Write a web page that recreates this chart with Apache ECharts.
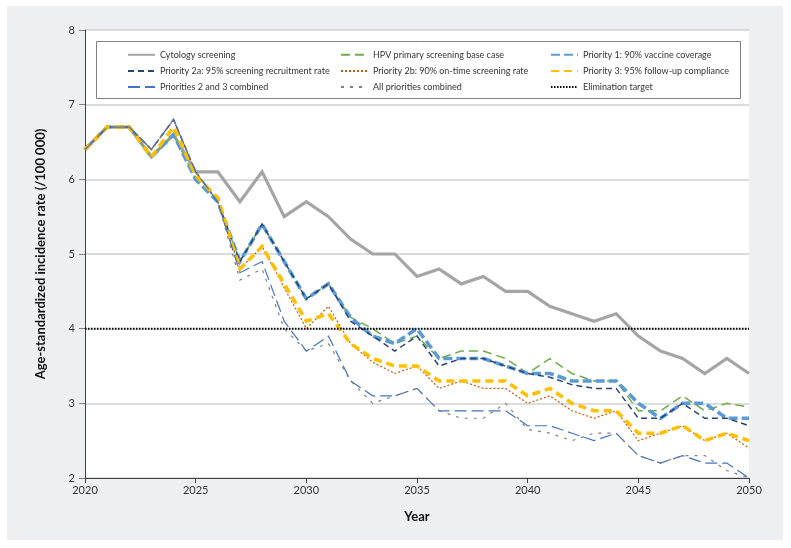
<!DOCTYPE html>
<html>
<head>
<meta charset="utf-8">
<script src="https://cdn.jsdelivr.net/npm/echarts@6/dist/echarts.min.js"></script>
<style>
html,body{margin:0;padding:0;background:#ffffff;}
#chart{width:791px;height:548px;}
</style>
</head>
<body>
<div id="chart"></div>
<script>
// ---- Data ----
var years = [2020,2021,2022,2023,2024,2025,2026,2027,2028,2029,2030,2031,2032,2033,2034,2035,2036,2037,2038,2039,2040,2041,2042,2043,2044,2045,2046,2047,2048,2049,2050];
var cytology = [6.4,6.7,6.7,6.3,6.6,6.1,6.1,5.7,6.1,5.5,5.7,5.5,5.2,5.0,5.0,4.7,4.8,4.6,4.7,4.5,4.5,4.3,4.2,4.1,4.2,3.9,3.7,3.6,3.4,3.6,3.4];
var hpvBase = [6.4,6.7,6.7,6.3,6.6,6.0,5.7,4.9,5.4,4.9,4.4,4.6,4.15,4.0,3.8,3.9,3.6,3.7,3.7,3.6,3.4,3.6,3.4,3.3,3.3,2.9,2.9,3.1,2.9,3.0,2.95];
var priority1 = [6.4,6.7,6.7,6.3,6.6,6.0,5.7,4.9,5.4,4.9,4.4,4.6,4.15,3.9,3.8,4.0,3.6,3.6,3.6,3.5,3.4,3.4,3.3,3.3,3.3,3.0,2.8,3.0,3.0,2.8,2.8];
var priority2a = [6.4,6.7,6.7,6.4,6.8,6.1,5.7,4.9,5.4,4.9,4.4,4.6,4.1,3.9,3.7,3.9,3.5,3.6,3.6,3.5,3.4,3.35,3.25,3.2,3.2,2.8,2.8,3.0,2.8,2.8,2.7];
var priority2b = [6.4,6.7,6.7,6.4,6.8,6.1,5.7,4.8,5.1,4.55,4.0,4.3,3.8,3.55,3.4,3.5,3.2,3.3,3.2,3.2,3.0,3.1,2.9,2.8,2.9,2.5,2.6,2.7,2.5,2.6,2.4];
var priority3 = [6.4,6.7,6.7,6.3,6.7,6.05,5.75,4.8,5.1,4.6,4.1,4.2,3.8,3.6,3.5,3.5,3.3,3.3,3.3,3.3,3.1,3.2,3.0,2.9,2.9,2.6,2.6,2.7,2.5,2.6,2.5];
var priorities23 = [6.4,6.7,6.7,6.4,6.8,6.1,5.7,4.75,4.9,4.1,3.7,3.9,3.3,3.1,3.1,3.2,2.9,2.9,2.9,2.9,2.7,2.7,2.6,2.5,2.6,2.3,2.2,2.3,2.2,2.2,2.0];
var allPriorities = [6.4,6.7,6.7,6.4,6.8,6.1,5.7,4.65,4.8,4.0,3.7,3.8,3.3,3.0,3.1,3.2,2.9,2.8,2.8,3.0,2.65,2.6,2.5,2.6,2.6,2.3,2.2,2.3,2.3,2.1,2.0];
var eliminationTarget = 4;
var yTicks = [2,3,4,5,6,7,8];
var xTicks = [2020,2025,2030,2035,2040,2045,2050];

var names = [
  'Cytology screening',
  'HPV primary screening base case',
  'Priority 1: 90% vaccine coverage',
  'Priority 2a: 95% screening recruitment rate',
  'Priority 2b: 90% on-time screening rate',
  'Priority 3: 95% follow-up compliance',
  'Priorities 2 and 3 combined',
  'All priorities combined',
  'Elimination target'
];

function pairs(arr){ return years.map(function(y,i){ return [y, arr[i]]; }); }

var FONT = 'Lato';

function lineSeries(name, arr, color, width, type){
  return {
    name: name, type: 'line', data: pairs(arr), symbol: 'none', showSymbol: false,
    animation: false, silent: true,
    lineStyle: { color: color, width: width, type: type, cap: 'butt', join: 'miter' },
    itemStyle: { color: color }
  };
}

var series = [
  lineSeries(names[0], cytology, '#a5a5a5', 3.2, 'solid'),
  lineSeries(names[1], hpvBase, '#70ad47', 1.5, [9,5]),
  lineSeries(names[2], priority1, '#5b9bd5', 3.6, [9,4]),
  lineSeries(names[3], priority2a, '#264478', 1.5, [6,4]),
  lineSeries(names[4], priority2b, '#c55a11', 1.2, [2,2]),
  lineSeries(names[5], priority3, '#ffc000', 3.6, [8,5]),
  lineSeries(names[6], priorities23, '#4472c4', 1.2, [12,5]),
  lineSeries(names[7], allPriorities, '#7f7f7f', 1.2, [3,6]),
  {
    name: names[8], type: 'line', symbol: 'none', animation: false, silent: true,
    data: [[years[0], eliminationTarget],[years[years.length-1], eliminationTarget]],
    lineStyle: { color: '#000000', width: 2, type: [1.5,1.5], cap: 'butt' },
    itemStyle: { color: '#000000' }
  }
];

function legendCol(left, items){
  return {
    orient: 'vertical', left: left, top: 45, itemWidth: 27, itemHeight: 12, itemGap: 6.5,
    selectedMode: false, data: items,
    itemStyle: { opacity: 0 },
    textStyle: { fontFamily: FONT, fontSize: 9, color: '#333333', padding: [0,0,0,0] }
  };
}

var chart = echarts.init(document.getElementById('chart'), null, { renderer: 'canvas' });
chart.setOption({
  animation: false,
  backgroundColor: '#ffffff',
  graphic: [
    { type: 'rect', z: -100, shape: { x: 7, y: 6, width: 776, height: 534 }, style: { fill: '#eeeff1' } },
    { type: 'rect', z: 3, shape: { x: 96.5, y: 41.5, width: 644, height: 57 }, style: { fill: '#ffffff', stroke: '#808080', lineWidth: 1 } }
  ],
  grid: { left: 85, top: 30, right: 42, bottom: 70, show: true, backgroundColor: '#ffffff', borderWidth: 0 },
  legend: [
    legendCol(122, [names[0], names[3], names[6]]),
    legendCol(335, [names[1], names[4], names[7]]),
    legendCol(545, [names[2], names[5], names[8]])
  ],
  xAxis: {
    type: 'value', min: xTicks[0], max: xTicks[xTicks.length-1], interval: 5,
    name: 'Year', nameLocation: 'middle', nameGap: 32,
    nameTextStyle: { fontFamily: FONT, fontSize: 13, fontWeight: 'bold', color: '#111111' },
    axisLine: { show: true, lineStyle: { color: '#404040', width: 1 } },
    axisTick: { show: true, inside: false, length: 5, lineStyle: { color: '#404040' } },
    axisLabel: { fontFamily: FONT, fontSize: 11, color: '#333333', margin: 7, formatter: function(v){ return String(v); } },
    splitLine: { show: false }
  },
  yAxis: {
    type: 'value', min: yTicks[0], max: yTicks[yTicks.length-1], interval: 1,
    name: 'Age-standardized incidence rate (/100 000)', nameLocation: 'middle', nameGap: 38,
    nameTextStyle: { fontFamily: FONT, fontSize: 13, fontWeight: 'bold', color: '#111111' },
    axisLine: { show: true, lineStyle: { color: '#404040', width: 1 } },
    axisTick: { show: true, inside: false, length: 6, lineStyle: { color: '#808080' } },
    axisLabel: { fontFamily: FONT, fontSize: 11, color: '#333333', margin: 10 },
    splitLine: { show: true, lineStyle: { color: '#d0d0d0', width: 1.5 } }
  },
  series: series
});
</script>
</body>
</html>
